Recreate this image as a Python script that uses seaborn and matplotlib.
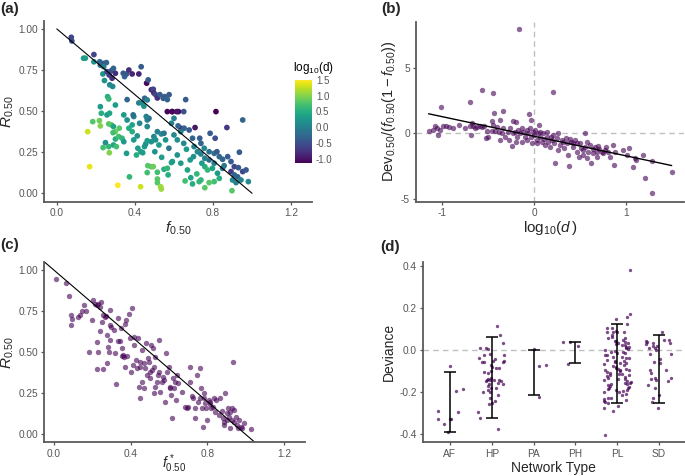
import numpy as np
import pandas as pd
import matplotlib
matplotlib.use("Agg")
import matplotlib.pyplot as plt
import seaborn as sns

# ---- panel (a): f_0.50 vs R_0.50, coloured by log10(d)
a_f = [0.074, 0.077, 0.137, 0.146, 0.190, 0.190, 0.220, 0.223, 0.240, 0.254,
       0.240, 0.236, 0.244, 0.257, 0.268, 0.280, 0.290, 0.283, 0.271, 0.286,
       0.300, 0.340, 0.347, 0.357, 0.369, 0.386, 0.420, 0.432, 0.460, 0.468,
       0.484, 0.494, 0.497, 0.506, 0.515, 0.528, 0.545, 0.552, 0.575, 0.566,
       0.450, 0.463, 0.420, 0.437, 0.446, 0.360, 0.260, 0.266, 0.223, 0.300,
       0.257, 0.270, 0.228, 0.184, 0.218, 0.223, 0.158, 0.168, 0.266, 0.280,
       0.290, 0.300, 0.320, 0.288, 0.300, 0.317, 0.334, 0.343, 0.249, 0.237,
       0.266, 0.290, 0.305, 0.269, 0.357, 0.343, 0.360, 0.369, 0.386, 0.394,
       0.391, 0.386, 0.394, 0.412, 0.424, 0.415, 0.408, 0.430, 0.440, 0.449,
       0.455, 0.463, 0.463, 0.472, 0.458, 0.463, 0.484, 0.497, 0.506, 0.515,
       0.523, 0.535, 0.549, 0.557, 0.537, 0.502, 0.466, 0.484, 0.463, 0.515,
       0.515, 0.515, 0.532, 0.535, 0.429, 0.312, 0.372, 0.494, 0.549, 0.566,
       0.587, 0.570, 0.592, 0.592, 0.566, 0.623, 0.614, 0.590, 0.660, 0.650,
       0.815, 0.635, 0.708, 0.600, 0.621, 0.635, 0.652, 0.678, 0.587, 0.600,
       0.617, 0.650, 0.664, 0.695, 0.732, 0.738, 0.785, 0.811, 0.871, 0.952,
       0.703, 0.720, 0.738, 0.755, 0.780, 0.806, 0.820, 0.832, 0.849, 0.875,
       0.892, 0.935, 0.909, 0.930, 0.952, 0.969, 0.892, 0.909, 0.926, 0.943,
       0.981, 0.918, 0.900, 0.897, 0.806, 0.780, 0.758, 0.729, 0.738, 0.695,
       0.657, 0.686, 0.717, 0.669, 0.635, 0.683, 0.700, 0.743, 0.758, 0.772,
       0.797, 0.823, 0.832, 0.849, 0.857, 0.780, 0.806, 0.758, 0.617, 0.574]
a_r = [0.949, 0.927, 0.822, 0.822, 0.844, 0.800, 0.800, 0.780, 0.790, 0.795,
       0.770, 0.726, 0.686, 0.740, 0.720, 0.746, 0.760, 0.700, 0.660, 0.650,
       0.730, 0.730, 0.710, 0.726, 0.750, 0.726, 0.726, 0.770, 0.670, 0.690,
       0.630, 0.633, 0.610, 0.600, 0.580, 0.600, 0.578, 0.588, 0.600, 0.570,
       0.578, 0.568, 0.550, 0.550, 0.530, 0.570, 0.588, 0.574, 0.527, 0.537,
       0.477, 0.487, 0.487, 0.436, 0.442, 0.410, 0.375, 0.162, 0.422, 0.416,
       0.406, 0.375, 0.396, 0.369, 0.330, 0.345, 0.335, 0.314, 0.308, 0.278,
       0.284, 0.294, 0.284, 0.247, 0.243, 0.477, 0.446, 0.396, 0.416, 0.467,
       0.477, 0.375, 0.325, 0.349, 0.426, 0.274, 0.233, 0.253, 0.247, 0.284,
       0.300, 0.406, 0.446, 0.456, 0.467, 0.320, 0.314, 0.345, 0.325, 0.375,
       0.294, 0.361, 0.365, 0.325, 0.219, 0.253, 0.168, 0.162, 0.126, 0.128,
       0.087, 0.065, 0.040, 0.026, 0.040, 0.049, 0.100, 0.162, 0.146, 0.152,
       0.187, 0.112, 0.193, 0.497, 0.497, 0.497, 0.497, 0.497, 0.570, 0.497,
       0.497, 0.396, 0.400, 0.456, 0.410, 0.375, 0.396, 0.385, 0.426, 0.355,
       0.325, 0.304, 0.268, 0.335, 0.335, 0.304, 0.365, 0.335, 0.400, 0.446,
       0.284, 0.253, 0.239, 0.274, 0.253, 0.243, 0.253, 0.223, 0.207, 0.223,
       0.193, 0.250, 0.162, 0.156, 0.132, 0.142, 0.132, 0.112, 0.100, 0.081,
       0.071, 0.065, 0.081, 0.016, 0.071, 0.065, 0.034, 0.071, 0.081, 0.057,
       0.075, 0.095, 0.118, 0.142, 0.183, 0.203, 0.223, 0.183, 0.162, 0.142,
       0.152, 0.122, 0.091, 0.152, 0.168, 0.203, 0.183, 0.213, 0.233, 0.274]
a_logd = [-0.6, -0.5, 0.3, 0.3, -0.6, 0.2, -0.3, -0.2, -0.4, -0.3,
          0.0, 0.2, 0.2, -0.6, -0.7, -0.5, -0.3, -0.8, 0.1, 0.1,
          -0.8, -0.4, -0.3, -0.4, -0.8, -0.9, -0.9, -0.4, -1.1, -0.4,
          -0.9, -0.6, -0.8, -0.6, -0.8, -0.4, -0.4, -0.4, -0.4, -0.3,
          -0.3, 0.0, 0.0, 0.1, 0.2, -0.3, 0.5, 0.6, 0.3, 0.3,
          0.3, 0.4, 0.5, 0.8, 0.9, 1.0, 1.3, 1.4, 0.8, 0.8,
          0.4, 0.9, 0.8, 0.7, 0.5, 0.7, 0.6, 0.3, 0.2, 0.7,
          0.6, 0.4, 0.7, 1.0, 0.3, 0.3, 0.2, 0.5, 0.4, 0.0,
          -0.2, 0.5, 0.3, 0.2, 0.1, 0.3, 0.5, 0.4, 0.3, 0.3,
          0.2, 0.1, 0.1, -0.2, 0.0, 0.3, 0.2, 0.1, 0.2, 0.0,
          0.3, 0.1, -0.1, 0.2, 0.3, 0.2, 0.8, 0.8, 0.7, 0.7,
          0.8, 0.8, 1.1, 1.1, 1.3, 1.5, 0.6, 0.9, 0.5, 0.6,
          0.4, 0.5, 0.3, -1.1, -1.1, -1.1, -1.0, -1.1, -0.4, -0.5,
          -1.2, -0.9, -1.0, 0.0, -0.3, 0.0, -0.3, -0.4, 0.0, 0.1,
          0.2, 0.1, 0.3, -0.3, -0.4, -0.3, -0.4, -0.5, -0.7, -0.3,
          0.0, 0.1, 0.0, 0.1, -0.2, -0.2, -0.4, -0.3, -0.3, -0.4,
          -0.4, -0.4, -0.6, -0.4, -0.6, -0.4, -0.7, -0.3, -0.3, 0.0,
          0.1, 0.0, 0.1, 0.8, 0.7, 0.8, 0.8, 0.6, 0.6, 0.5,
          0.7, 0.4, 0.6, 0.4, 0.3, 0.3, 0.2, 0.3, 0.5, 0.6,
          0.4, 0.3, 0.5, -0.2, -0.1, -0.2, 0.0, 0.0, 0.2, -0.1]

# ---- panel (b): log10(d) vs scaled deviance
b_logd = [-0.164, -0.571, -0.451, 0.211, -0.695, -1.015, -0.338, -0.433, -0.055, -0.036,
          -0.370, -0.460, -0.225, -0.196, 0.050, 0.556, -1.150, -1.105, -1.080, -1.060,
          -1.050, -1.025, -0.996, -0.960, -0.924, -0.880, -0.815, -0.753, -0.698, -0.680,
          -0.662, -0.687, -0.644, -0.625, -0.589, -0.571, -0.542, -0.516, -0.524, -0.498,
          -0.462, -0.444, -0.425, -0.407, -0.378, -0.353, -0.335, -0.316, -0.280, -0.236,
          -0.233, -0.262, -0.207, -0.189, -0.171, -0.153, -0.135, -0.116, -0.098, -0.080,
          -0.080, -0.062, -0.044, -0.036, -0.015, 0.000, 0.011, 0.029, 0.047, 0.065,
          0.084, 0.109, 0.138, 0.156, 0.175, 0.193, 0.211, 0.222, 0.229, 0.247,
          0.265, 0.284, 0.302, 0.327, 0.349, 0.364, 0.375, 0.385, 0.400, 0.422,
          0.447, 0.465, 0.473, 0.495, 0.509, 0.531, 0.556, 0.575, 0.593, 0.611,
          0.618, 0.640, 0.665, 0.691, 0.713, 0.738, 0.756, 0.785, 0.811, 0.829,
          0.858, 0.873, 0.884, 0.967, 1.018, 1.040, 1.084, 1.102, 1.113, 1.185,
          1.211, 1.291, 1.284, 1.502, 0.065, 0.102, 0.138, 0.182, 0.120, 0.036,
          -0.025, -0.135, -0.196, -0.273, -0.371, 0.265, 0.320, 0.393, 0.429, 0.502,
          0.538, 0.647, 0.702, 0.775, 0.575, 0.684]
b_dev = [7.94, 3.30, 3.10, 3.17, 2.39, 2.00, 1.70, 1.52, 1.50, 1.02,
         1.00, 0.94, 0.94, 0.84, 0.63, 0.05, 0.18, 0.25, 0.56, 0.38,
         -0.13, 0.25, 0.56, 0.56, 0.51, 0.38, 0.63, 0.38, 0.56, 0.76,
         0.58, -0.13, 0.38, 0.51, 0.56, 0.46, 0.56, 0.18, -0.38, -0.25,
         0.18, 0.63, 0.18, 0.51, 0.13, 0.00, 0.38, -0.25, 0.13, -0.94,
         0.00, 0.38, 0.13, -0.25, 0.25, 0.00, 0.38, 0.13, -0.25, 0.25,
         -0.50, 0.00, 0.38, -0.25, 0.13, -0.13, 0.25, -0.50, 0.00, -0.30,
         -0.63, -0.46, -0.25, -0.63, -1.02, -0.50, -0.13, -0.71, -2.28, -0.38,
         0.05, -0.89, -0.50, -1.14, -0.38, -0.76, -1.65, -2.49, -0.63, -1.02,
         -0.50, -1.40, -0.76, -1.78, -1.14, -1.65, -1.02, -0.63, -1.40, -0.89,
         -2.23, -1.52, -1.02, -1.78, -1.22, -1.40, -1.52, -1.02, -1.40, -1.78,
         -0.89, -2.41, -1.40, -1.27, -1.65, -1.09, -2.61, -1.90, -2.03, -1.65,
         -3.43, -2.11, -4.57, -2.92, 0.13, 0.00, 0.13, -0.25, -0.89, -0.76,
         -0.76, -0.63, -0.63, -0.50, -0.50, -1.27, -0.63, -0.46, -0.71, -0.71,
         -1.27, -1.22, -0.96, -1.27, -1.90, -1.40]

# ---- panel (c): f*_0.50 vs R_0.50
c_fstar = [0.010, 0.061, 0.080, 0.087, 0.092, 0.090, 0.124, 0.136, 0.145, 0.154,
           0.168, 0.197, 0.202, 0.215, 0.223, 0.232, 0.246, 0.241, 0.223, 0.227,
           0.185, 0.223, 0.258, 0.241, 0.250, 0.258, 0.267, 0.272, 0.276, 0.279,
           0.284, 0.288, 0.293, 0.293, 0.297, 0.293, 0.311, 0.316, 0.325, 0.333,
           0.332, 0.346, 0.349, 0.354, 0.360, 0.354, 0.363, 0.372, 0.377, 0.372,
           0.380, 0.389, 0.398, 0.401, 0.407, 0.412, 0.415, 0.419, 0.429, 0.433,
           0.436, 0.442, 0.447, 0.450, 0.447, 0.459, 0.459, 0.468, 0.471, 0.476,
           0.482, 0.485, 0.489, 0.494, 0.499, 0.503, 0.506, 0.511, 0.515, 0.520,
           0.524, 0.529, 0.529, 0.538, 0.541, 0.546, 0.550, 0.555, 0.564, 0.569,
           0.572, 0.578, 0.585, 0.590, 0.599, 0.604, 0.607, 0.613, 0.616, 0.621,
           0.625, 0.634, 0.639, 0.642, 0.647, 0.668, 0.686, 0.695, 0.702, 0.712,
           0.712, 0.721, 0.726, 0.735, 0.738, 0.747, 0.752, 0.761, 0.764, 0.768,
           0.773, 0.778, 0.782, 0.785, 0.791, 0.796, 0.799, 0.808, 0.813, 0.817,
           0.820, 0.831, 0.834, 0.843, 0.848, 0.860, 0.869, 0.878, 0.883, 0.887,
           0.890, 0.895, 0.901, 0.904, 0.909, 0.913, 0.918, 0.921, 0.927, 0.930,
           0.934, 0.939, 0.942, 0.948, 0.953, 0.960, 0.965, 0.974, 0.983, 0.991,
           1.031]
c_r = [0.949, 0.925, 0.842, 0.726, 0.702, 0.665, 0.714, 0.726, 0.750, 0.787,
       0.750, 0.696, 0.817, 0.797, 0.787, 0.797, 0.807, 0.777, 0.564, 0.499,
       0.499, 0.398, 0.398, 0.629, 0.686, 0.726, 0.716, 0.722, 0.432, 0.604,
       0.533, 0.499, 0.757, 0.665, 0.655, 0.574, 0.635, 0.493, 0.304, 0.710,
       0.568, 0.568, 0.649, 0.523, 0.483, 0.479, 0.473, 0.675, 0.696, 0.412,
       0.479, 0.736, 0.584, 0.381, 0.767, 0.422, 0.594, 0.544, 0.452, 0.402,
       0.584, 0.290, 0.219, 0.442, 0.412, 0.320, 0.513, 0.432, 0.280, 0.402,
       0.554, 0.361, 0.462, 0.442, 0.381, 0.341, 0.544, 0.391, 0.523, 0.249,
       0.412, 0.290, 0.473, 0.320, 0.361, 0.574, 0.381, 0.260, 0.320, 0.351,
       0.331, 0.199, 0.493, 0.381, 0.412, 0.290, 0.280, 0.239, 0.097, 0.341,
       0.280, 0.320, 0.209, 0.361, 0.310, 0.260, 0.168, 0.158, 0.168, 0.320,
       0.412, 0.235, 0.223, 0.101, 0.158, 0.361, 0.199, 0.219, 0.402, 0.280,
       0.158, 0.047, 0.249, 0.219, 0.189, 0.158, 0.087, 0.209, 0.183, 0.199,
       0.158, 0.168, 0.219, 0.138, 0.209, 0.118, 0.219, 0.142, 0.101, 0.057,
       0.077, 0.249, 0.128, 0.087, 0.158, 0.107, 0.037, 0.138, 0.158, 0.087,
       0.442, 0.148, 0.077, 0.107, 0.057, 0.037, 0.087, 0.047, 0.037, 0.067,
       0.032]

# ---- panel (d): deviance by network type
net_types = ["AF", "HP", "PA", "PH", "PL", "SD"]
af_dev = [-0.287, -0.292, -0.387, -0.192, -0.184, -0.325, -0.325, -0.325, -0.351, -0.073]
hp_dev = [0.114, 0.071, 0.006, 0.010, 0.010, 0.033, -0.022, -0.019, -0.022, -0.038,
          -0.044, -0.049, -0.054, -0.051, -0.054, -0.057, -0.078, -0.083, -0.086, -0.097,
          -0.102, -0.070, -0.110, -0.130, -0.137, -0.146, -0.141, -0.141, -0.141, -0.146,
          -0.141, -0.168, -0.178, -0.189, -0.181, -0.154, -0.162, -0.162, -0.197, -0.213,
          -0.197, -0.225, -0.241, -0.252, -0.257, -0.295, -0.324, -0.375]
pa_dev = [0.006, -0.073, -0.070, -0.224]
ph_dev = [0.038, 0.038, 0.020, -0.066]
pl_dev = [0.383, 0.171, 0.160, 0.148, 0.125, 0.108, 0.105, 0.092, 0.086, 0.086,
          0.086, 0.086, 0.073, 0.063, 0.060, 0.044, 0.044, 0.060, 0.041, 0.033,
          0.029, 0.025, 0.033, 0.025, 0.010, 0.017, 0.002, 0.006, -0.006, -0.014,
          -0.014, -0.006, -0.022, -0.030, -0.022, -0.030, -0.038, -0.051, -0.062, -0.051,
          -0.062, -0.070, -0.067, -0.057, -0.086, -0.094, -0.089, -0.094, -0.089, -0.094,
          -0.102, -0.110, -0.114, -0.121, -0.117, -0.114, -0.130, -0.137, -0.146, -0.141,
          -0.137, -0.157, -0.157, -0.162, -0.165, -0.181, -0.173, -0.178, -0.189, -0.194,
          -0.189, -0.184, -0.213, -0.210, -0.200, -0.225, -0.232, -0.225, -0.237, -0.244,
          -0.241, -0.287, -0.403, -0.252, -0.276, -0.263, 0.050, -0.005, -0.045, -0.075,
          -0.100, -0.120, -0.150, -0.170, -0.200, 0.015, -0.035, -0.080, -0.125, -0.160]
sd_dev = [0.086, 0.049, 0.029, 0.022, 0.033, 0.010, 0.033, 0.044, 0.049, 0.038,
          0.013, 0.022, -0.019, -0.041, -0.062, -0.054, -0.094, -0.094, -0.110, -0.133,
          -0.143, -0.137, -0.130, -0.146, -0.165, -0.178, -0.248, -0.276, -0.225, -0.213,
          -0.019, 0.002]
bar_hi = [-0.102, 0.062, 0.000, 0.038, 0.124, 0.072]
bar_lo = [-0.387, -0.321, -0.213, -0.062, -0.252, -0.252]

# ---- style
sns.set_style("ticks")
plt.rcParams["font.family"] = ["Liberation Sans", "DejaVu Sans"]
plt.rcParams["mathtext.fontset"] = "custom"
plt.rcParams["mathtext.rm"] = "Liberation Sans"
plt.rcParams["mathtext.it"] = "Liberation Sans:italic"
plt.rcParams["mathtext.bf"] = "Liberation Sans:bold"
plt.rcParams["axes.unicode_minus"] = False

purple = "#440154"
axis_grey = "#5a5a5a"
tick_grey = "#555555"

fig = plt.figure(figsize=(6.85, 4.76), dpi=100)
axA = fig.add_axes([0.0647, 0.5763, 0.3908, 0.3802])
axB = fig.add_axes([0.6073, 0.5763, 0.3912, 0.3781])
axC = fig.add_axes([0.0647, 0.0708, 0.3806, 0.3794])
axD = fig.add_axes([0.6171, 0.0708, 0.3829, 0.3784])


def style_axes(ax):
    sns.despine(ax=ax)
    for side in ["left", "bottom"]:
        ax.spines[side].set_color(axis_grey)
        ax.spines[side].set_linewidth(1.3)
    ax.tick_params(colors=tick_grey, labelsize=7.3, length=2.5, width=0.9, pad=2)
    ax.set_facecolor("white")


# (a)
logd_norm = plt.Normalize(-1.15, 1.5)
sns.scatterplot(x=a_f, y=a_r, hue=a_logd, palette="viridis", hue_norm=logd_norm,
                s=17, linewidth=0, legend=False, ax=axA)
ref_x = np.array([0.0, 1.0])
axA.plot(ref_x, 1 - ref_x, color="black", lw=0.8)
axA.set_xlim(-0.064, 1.307)
axA.set_ylim(-0.051, 1.05)
axA.set_xticks([0.0, 0.4, 0.8, 1.2])
axA.set_yticks([0.0, 0.25, 0.5, 0.75, 1.0])
axA.set_xticklabels(["0.0", "0.4", "0.8", "1.2"])
axA.set_yticklabels(["0.00", "0.25", "0.50", "0.75", "1.00"])
axA.set_xlabel(r"$\mathit{f}_{\mathit{0.50}}$", fontsize=11, labelpad=1)
axA.set_ylabel(r"$\mathit{R}_{\mathit{0.50}}$", fontsize=11, labelpad=2)
style_axes(axA)

cax = fig.add_axes([295 / 685, 1 - 163.3 / 476, 16.7 / 685, 83.3 / 476])
sm = plt.cm.ScalarMappable(cmap="viridis", norm=logd_norm)
cb = fig.colorbar(sm, cax=cax)
cb.outline.set_visible(False)
cb.set_ticks([-1.0, -0.5, 0.0, 0.5, 1.0, 1.5])
cb.set_ticklabels(["-1.0", "-0.5", "0.0", "0.5", "1.0", "1.5"])
cax.yaxis.set_ticks_position("both")
cax.tick_params(axis="y", direction="in", color="white", length=3, width=0.7,
                labelsize=7, labelcolor=tick_grey, pad=3, labelright=True, labelleft=False)
fig.text(293 / 685, 1 - 68 / 476, r"$\mathrm{log}_{10}(\mathrm{d})$", fontsize=8.5,
         ha="left", va="center", color="black")

# (b)
axB.axhline(0, color="#c0c0c0", lw=1, ls=(0, (4, 3)), zorder=0)
axB.axvline(0, color="#c0c0c0", lw=1, ls=(0, (4, 3)), zorder=0)
sns.scatterplot(x=b_logd, y=b_dev, color=purple, alpha=0.6, s=15, linewidth=0, ax=axB)
sns.regplot(x=b_logd, y=b_dev, scatter=False, ci=None, truncate=True, color="black",
            line_kws={"lw": 1.0}, ax=axB)
axB.set_xlim(-1.287, 1.636)
axB.set_ylim(-5.22, 8.52)
axB.set_xticks([-1, 0, 1])
axB.set_yticks([-5, 0, 5])
axB.set_xlabel(r"$\mathrm{log}_{10}(\mathit{d}\,)$", fontsize=11, labelpad=1)
axB.set_ylabel(r"$\mathrm{Dev}_{0.50}/\left(\mathit{f}_{\mathit{0.50}}(1-\mathit{f}_{\mathit{0.50}})\right)$",
               fontsize=10.5, labelpad=2)
style_axes(axB)

# (c)
sns.scatterplot(x=c_fstar, y=c_r, color=purple, alpha=0.6, s=15, linewidth=0, ax=axC)
axC.axline((0, 1), slope=-1, color="black", lw=0.8)
axC.set_xlim(-0.051, 1.311)
axC.set_ylim(-0.049, 1.052)
axC.set_xticks([0.0, 0.4, 0.8, 1.2])
axC.set_yticks([0.0, 0.25, 0.5, 0.75, 1.0])
axC.set_xticklabels(["0.0", "0.4", "0.8", "1.2"])
axC.set_yticklabels(["0.00", "0.25", "0.50", "0.75", "1.00"])
axC.set_xlabel(r"$\mathit{f}^{\,*}_{\mathit{0.50}}$", fontsize=10)
axC.xaxis.set_label_coords(0.5, -0.055)
axC.set_ylabel(r"$\mathit{R}_{\mathit{0.50}}$", fontsize=11, labelpad=2)
style_axes(axC)

# (d)
dev_lists = [af_dev, hp_dev, pa_dev, ph_dev, pl_dev, sd_dev]
df_d = pd.DataFrame({
    "type": [t for t, vals in zip(net_types, dev_lists) for _ in vals],
    "dev": [v for vals in dev_lists for v in vals],
})
axD.axhline(0, color="#c0c0c0", lw=1, ls=(0, (4, 3)), zorder=0)
np.random.seed(7)
sns.stripplot(data=df_d, x="type", y="dev", order=net_types, jitter=0.33, size=2.4,
              color=purple, alpha=0.7, linewidth=0, ax=axD)
pos = np.arange(len(net_types))
mid = (np.array(bar_hi) + np.array(bar_lo)) / 2
half = (np.array(bar_hi) - np.array(bar_lo)) / 2
axD.errorbar(pos, mid, yerr=half, fmt="none", ecolor="black", elinewidth=1.1,
             capsize=4.3, capthick=1.1, zorder=5)
axD.set_xlim(-0.65, 5.62)
axD.set_ylim(-0.438, 0.419)
axD.set_yticks([-0.4, -0.2, 0.0, 0.2, 0.4])
axD.set_yticklabels(["-0.4", "-0.2", "0.0", "0.2", "0.4"])
axD.set_xlabel("Network Type", fontsize=10, labelpad=2)
axD.set_ylabel("Deviance", fontsize=10, labelpad=2)
style_axes(axD)

# panel letters
for x, y, lab in [(0.0, 1 - 2 / 476, "(a)"), (381.7 / 685, 1 - 2.5 / 476, "(b)"),
                  (0.0, 1 - 238 / 476, "(c)"), (380 / 685, 1 - 240 / 476, "(d)")]:
    fig.text(x, y, lab, fontsize=11, fontweight="bold", ha="left", va="top")

fig.savefig("out.png", dpi=100, facecolor="white")
